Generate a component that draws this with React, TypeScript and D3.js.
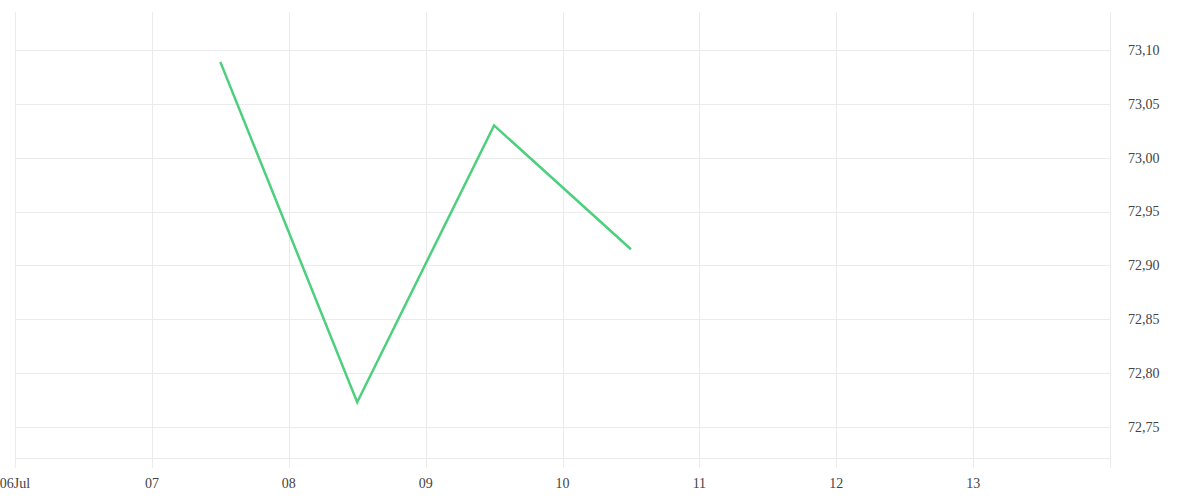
import React from "react";
import * as d3 from "d3";

const dates: string[] = ["2024-07-07T12:00", "2024-07-08T12:00", "2024-07-09T12:00", "2024-07-10T12:00"];
const values: number[] = [73.089, 72.773, 73.03, 72.915];
const yTicks: number[] = [72.75, 72.8, 72.85, 72.9, 72.95, 73.0, 73.05, 73.1];
const xTickDays: string[] = ["2024-07-06", "2024-07-07", "2024-07-08", "2024-07-09", "2024-07-10", "2024-07-11", "2024-07-12", "2024-07-13"];

const W = 1200;
const H = 500;
const left = 15;
const right = 1110;
const top = 12;
const bottom = 458;

export default function App() {
  const parse = d3.timeParse("%Y-%m-%dT%H:%M");
  const parseDay = d3.timeParse("%Y-%m-%d");
  const x = d3.scaleTime().domain([parseDay("2024-07-06")!, parseDay("2024-07-14")!]).range([left, right]);
  const y = d3.scaleLinear().domain([72.7212, 73.1353]).range([bottom, top]);
  const pts = dates.map((d, i) => [x(parse(d)!), y(values[i])] as [number, number]);
  const line = d3.line();
  const fmt = (v: number) => v.toFixed(2).replace(".", ",");
  const xTicks = xTickDays.map((d) => parseDay(d)!);
  const grid = "#ebebeb";
  return (
    <svg width={W} height={H} style={{ position: "absolute", left: 0, top: 0, fontFamily: "serif" }}>
      {yTicks.map((t) => (
        <line key={"h" + t} x1={left} x2={right} y1={Math.round(y(t)) + 0.5} y2={Math.round(y(t)) + 0.5} stroke={grid} />
      ))}
      <line x1={left} x2={right} y1={bottom + 0.5} y2={bottom + 0.5} stroke={grid} />
      {xTicks.map((t, i) => (
        <line key={"v" + i} x1={Math.round(x(t)) + 0.5} x2={Math.round(x(t)) + 0.5} y1={top} y2={468} stroke={grid} />
      ))}
      <line x1={right + 0.5} x2={right + 0.5} y1={top} y2={468} stroke={grid} />
      <path d={line(pts) || ""} fill="none" stroke="#4cd07d" strokeWidth={2.5} strokeLinejoin="miter" />
      {yTicks.map((t) => (
        <text key={"yl" + t} x={1128} y={y(t)} dy="0.35em" fontSize={14} fill="#444">
          {fmt(t)}
        </text>
      ))}
      {xTicks.map((t, i) => (
        <text key={"xl" + i} x={x(t)} y={488} textAnchor="middle" fontSize={14} fill="#444">
          {i === 0 ? d3.timeFormat("%d")(t) + "Jul" : d3.timeFormat("%d")(t)}
        </text>
      ))}
    </svg>
  );
}
